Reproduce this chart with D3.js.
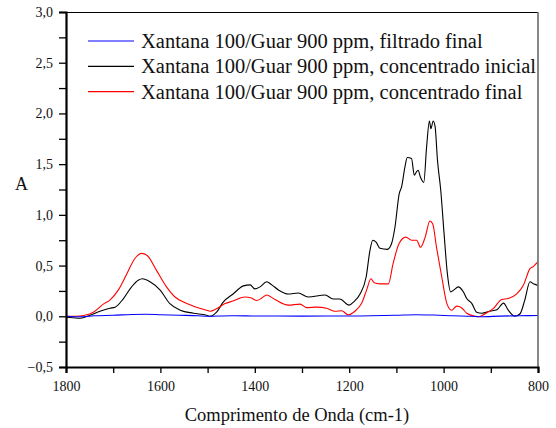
<!DOCTYPE html>
<html><head><meta charset="utf-8">
<script src="https://cdn.jsdelivr.net/npm/d3@7"></script>
<style>
html,body{margin:0;padding:0;background:#fff;}
svg{display:block;}
svg text{font-family:"Liberation Serif","Times New Roman",serif !important;}
</style></head>
<body><svg id="c" width="556" height="428"></svg>
<script>
// ---- data ----
const seriesNames = [
  "Xantana 100/Guar 900 ppm, filtrado final",
  "Xantana 100/Guar 900 ppm, concentrado inicial",
  "Xantana 100/Guar 900 ppm, concentrado final"
];
const seriesColors = ["#0000ff", "#000000", "#ff0000"];

const blueWn = [1800,1770,1740,1700,1660,1630,1600,1560,1520,1500,1450,1400,1300,1200,1100,1060,1020,980,940,920,880,840,800];
const blueA  = [0.0,-0.005,0.005,0.01,0.018,0.02,0.015,0.01,0.005,0.0,0.005,0.003,0.002,0.003,0.01,0.015,0.012,0.005,0.0,-0.005,0.002,0.005,0.008];

const blackWn = [1800,1785,1770,1749,1728,1707,1696,1679,1661,1647,1638,1622,1601,1580,1558,1530,1502,1495,1481,1467,1446,1424,1410,1400,1389,1375,1364,1350,1329,1308,1287,1251,1234,1220,1200,1191,1177,1164,1156,1150,1143,1135,1119,1110,1103,1094,1089,1082,1077,1068,1062,1058,1054,1049,1042,1036,1030,1027,1022,1018,1013,1006,999,992,985,978,969,958,951,940,930,919,902,887,873,863,849,838,828,817,810,801,800];
const blackA  = [-0.01,-0.015,-0.02,0.01,0.05,0.08,0.09,0.17,0.29,0.355,0.37,0.34,0.26,0.125,0.06,0.03,0.01,0.0,0.04,0.14,0.22,0.30,0.31,0.27,0.29,0.34,0.31,0.26,0.22,0.23,0.19,0.21,0.17,0.17,0.11,0.14,0.22,0.39,0.65,0.75,0.73,0.67,0.66,0.72,0.88,1.21,1.275,1.47,1.565,1.555,1.39,1.42,1.44,1.37,1.32,1.67,1.925,1.85,1.925,1.87,1.54,1.24,0.815,0.42,0.24,0.26,0.29,0.24,0.175,0.125,0.04,0.03,0.05,0.065,0.13,0.06,0.0,0.025,0.16,0.34,0.32,0.305,0.30];

const redWn = [1800,1780,1760,1742,1721,1707,1689,1671,1654,1640,1628,1608,1587,1569,1551,1530,1502,1495,1481,1463,1446,1421,1407,1396,1385,1375,1357,1329,1304,1290,1269,1248,1230,1216,1202,1188,1174,1163,1154,1147,1135,1117,1107,1094,1080,1068,1057,1049,1039,1029,1023,1015,1004,993,983,972,962,951,933,926,912,895,877,863,845,831,817,810,801,800];
const redA  = [0.0,0.0,0.01,0.04,0.12,0.16,0.26,0.42,0.57,0.62,0.60,0.45,0.29,0.19,0.14,0.10,0.06,0.05,0.075,0.125,0.15,0.19,0.18,0.155,0.18,0.21,0.165,0.11,0.12,0.085,0.09,0.08,0.05,0.055,0.015,0.05,0.125,0.26,0.37,0.33,0.32,0.32,0.52,0.72,0.78,0.75,0.75,0.68,0.78,0.94,0.91,0.68,0.39,0.125,0.06,0.10,0.085,0.03,0.0,-0.005,0.025,0.075,0.165,0.175,0.22,0.305,0.47,0.49,0.535,0.54];

const xTicks = [1800,1600,1400,1200,1000,800];
const yTicks = [-0.5,0.0,0.5,1.0,1.5,2.0,2.5,3.0];
const xTitle = "Comprimento de Onda (cm-1)";
const yTitle = "A";

// ---- layout ----
const L = 66, R = 538, T = 12, B = 367;
const svg = d3.select("#c");
const x = d3.scaleLinear().domain([1800, 800]).range([L, R]);
const y = d3.scaleLinear().domain([-0.5, 3.0]).range([B, T]);
const fmt = v => d3.format(".1f")(v).replace(".", ",");

const series = [
  {wn: blueWn, a: blueA, c: seriesColors[0]},
  {wn: blackWn, a: blackA, c: seriesColors[1]},
  {wn: redWn, a: redA, c: seriesColors[2]}
];
const line = d3.line().x(d => x(d[0])).y(d => y(d[1])).curve(d3.curveMonotoneX);
svg.append("defs").append("clipPath").attr("id","pc").append("rect")
  .attr("x", L).attr("y", T).attr("width", R - L).attr("height", B - T);
const g = svg.append("g").attr("clip-path","url(#pc)");
[series[1], series[2], series[0]].forEach(s => {
  g.append("path").datum(s.wn.map((w,i)=>[w, s.a[i]]))
    .attr("d", line).attr("fill","none").attr("stroke", s.c).attr("stroke-width", 1.1);
});

// frame: top & right thin
svg.append("line").attr("x1", L).attr("x2", R).attr("y1", T + 0.5).attr("y2", T + 0.5)
  .attr("stroke", "#000").attr("stroke-width", 1);
svg.append("line").attr("x1", R).attr("x2", R).attr("y1", T).attr("y2", B)
  .attr("stroke", "#6a6a6a").attr("stroke-width", 1.6);

// axes
const yAxis = d3.axisLeft(y).tickValues(d3.range(-0.5, 3.01, 0.25)).tickSize(7)
  .tickFormat(v => yTicks.some(t => Math.abs(t - v) < 1e-6) ? fmt(v) : "").tickPadding(6);
const gy = svg.append("g").attr("transform", `translate(${L},0)`).call(yAxis)
  .attr("font-family", null).attr("font-size", null);
gy.select(".domain").attr("stroke-width", 2.2);
gy.selectAll(".tick line").attr("stroke-width", 1.3);
gy.selectAll("text").style("font-size", "14px").attr("fill","#111");

const xAxis = d3.axisBottom(x).tickValues(d3.range(800, 1801, 100)).tickSize(6)
  .tickFormat(v => xTicks.includes(v) ? String(v) : "").tickPadding(8);
const gx = svg.append("g").attr("transform", `translate(0,${B})`).call(xAxis)
  .attr("font-family", null).attr("font-size", null);
gx.select(".domain").attr("stroke-width", 2.2);
gx.selectAll(".tick line").attr("stroke-width", 1.3);
gx.selectAll("text").style("font-size", "14px").attr("fill","#111");

// titles
svg.append("text").attr("x", 297).attr("y", 421).attr("text-anchor","middle")
  .style("font-size", "18.5px").attr("fill","#111").text(xTitle);
svg.append("text").attr("x", 21.5).attr("y", 190).attr("text-anchor","middle")
  .style("font-size", "18px").attr("fill","#111").text(yTitle);

// legend
const lg = svg.append("g");
seriesNames.forEach((n, i) => {
  const yy = 41 + i * 25.3;
  lg.append("line").attr("x1", 88).attr("x2", 134).attr("y1", yy).attr("y2", yy)
    .attr("stroke", seriesColors[i]).attr("stroke-width", 1.2);
  lg.append("text").attr("x", 141).attr("y", yy + 7).style("font-size", "20.5px")
    .attr("fill", "#111").text(n);
});
</script></body></html>
